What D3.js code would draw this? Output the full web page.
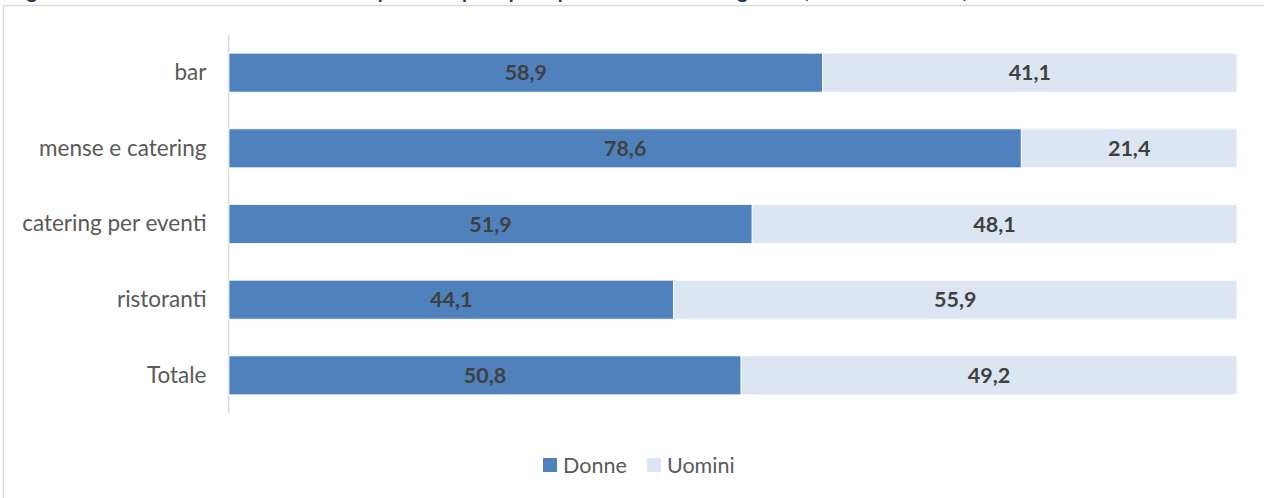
<!DOCTYPE html>
<html>
<head>
<meta charset="utf-8">
<script src="https://cdn.jsdelivr.net/npm/d3@7"></script>
<style>
  body { margin: 0; background: #fff; }
  svg { display: block; }
</style>
</head>
<body>
<div id="chart"></div>
<script>
const categories = ["bar", "mense e catering", "catering per eventi", "ristoranti", "Totale"];
const donne = [58.9, 78.6, 51.9, 44.1, 50.8];
const uomini = [41.1, 21.4, 48.1, 55.9, 49.2];
const seriesNames = ["Donne", "Uomini"];
const seriesColors = ["#4f81bd", "#dce6f2"];
const titleText = "Figura 12 – Distribuzione dei lavoratori dipendenti per tipo di pubblico esercizio e genere (media anno 2019)";

function draw() {
  const width = 1264;
  const height = 498;
  const margin = {left: 229, right: 27, top: 35, bottom: 85};

  const rows = categories.map((c, i) => ({cat: c, Donne: donne[i], Uomini: uomini[i]}));
  const stack = d3.stack().keys(seriesNames)(rows);

  const x = d3.scaleLinear()
    .domain([0, 100])
    .range([margin.left, width - margin.right]);

  const y = d3.scaleBand()
    .domain(categories)
    .range([margin.top, height - margin.bottom])
    .paddingInner(0.485)
    .paddingOuter(0.24);

  const color = d3.scaleOrdinal().domain(seriesNames).range(seriesColors);

  const svg = d3.select("#chart")
    .append("svg")
      .attr("width", width)
      .attr("height", height)
      .style("font-family", "Lato, 'Open Sans', sans-serif");

  // title, mostly cut off at the top of the picture
  svg.append("text")
    .attr("x", 10)
    .attr("y", -2)
    .attr("fill", "#1f3864")
    .style("font-weight", "bold")
    .style("font-size", "20px")
    .text(titleText);

  // chart frame
  svg.append("rect")
    .attr("x", 3.5)
    .attr("y", 5.5)
    .attr("width", 1400)
    .attr("height", 700)
    .attr("fill", "none")
    .attr("stroke", "#d9d9d9")
    .attr("stroke-width", 1.5);

  // vertical category axis
  const yAxis = svg.append("g")
    .attr("transform", `translate(${margin.left - 0.5},0)`)
    .call(d3.axisLeft(y).tickSize(0).tickPadding(22));
  yAxis.select(".domain")
    .attr("stroke", "#d9d9d9")
    .attr("stroke-width", 1.5)
    .attr("d", `M0,${margin.top}V${height - margin.bottom}`);
  yAxis.selectAll("text")
    .attr("fill", "#595959")
    .style("font-size", "22.5px")
    .style("font-family", "Lato, 'Open Sans', sans-serif");

  const groups = svg.append("g")
    .selectAll("g")
    .data(stack)
    .join("g")
      .attr("fill", d => color(d.key));

  groups.selectAll("rect")
    .data(d => d)
    .join("rect")
      .attr("x", d => x(d[0]))
      .attr("y", d => y(d.data.cat))
      .attr("width", d => x(d[1]) - x(d[0]))
      .attr("height", y.bandwidth())
      .attr("stroke", "#fff")
      .attr("stroke-width", 0.8);

  groups.selectAll("text")
    .data(d => d)
    .join("text")
      .attr("x", d => (x(d[0]) + x(d[1])) / 2)
      .attr("y", d => y(d.data.cat) + y.bandwidth() / 2)
      .attr("dy", "0.36em")
      .attr("text-anchor", "middle")
      .attr("fill", "#404040")
      .style("font-weight", "bold")
      .style("font-size", "21.5px")
      .text(d => d3.format(".1f")(d[1] - d[0]).replace(".", ","));

  // legend
  const legend = svg.append("g")
    .attr("transform", "translate(543,465)");
  const legendX = [0, 104];
  const item = legend.selectAll("g")
    .data(seriesNames)
    .join("g")
      .attr("transform", (d, i) => `translate(${legendX[i]},0)`);
  item.append("rect")
    .attr("x", 0)
    .attr("y", -7)
    .attr("width", 14)
    .attr("height", 14)
    .attr("fill", d => color(d));
  item.append("text")
    .attr("x", 20)
    .attr("y", 0)
    .attr("dy", "0.36em")
    .attr("fill", "#595959")
    .style("font-size", "21.5px")
    .text(d => d);
}
draw();
</script>
</body>
</html>
